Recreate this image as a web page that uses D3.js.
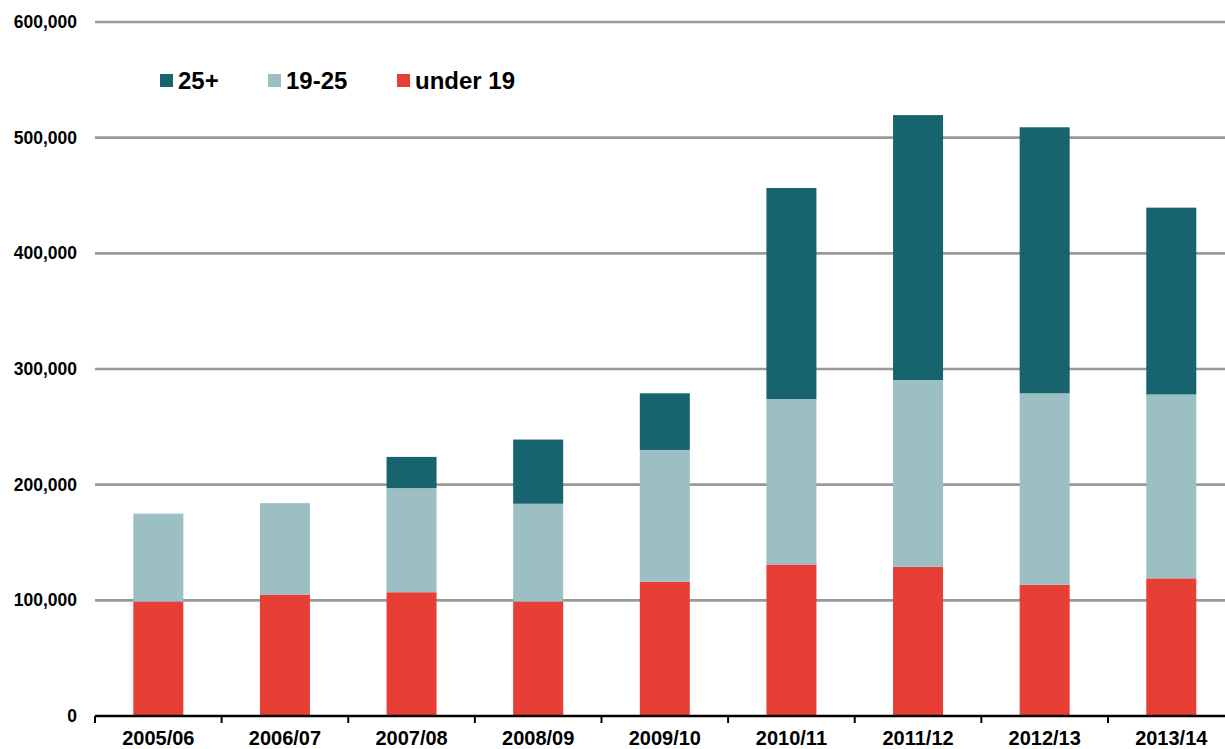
<!DOCTYPE html>
<html>
<head>
<meta charset="utf-8">
<script src="https://cdn.jsdelivr.net/npm/d3@7"></script>
<style>
  html, body { margin: 0; padding: 0; background: #fff; }
  svg { display: block; font-family: "Liberation Sans", Arial, sans-serif; font-weight: bold; }
</style>
</head>
<body>
<svg id="chart" width="1225" height="749"></svg>
<script>
// Academic years on the x axis
const years = ["2005/06", "2006/07", "2007/08", "2008/09", "2009/10", "2010/11", "2011/12", "2012/13", "2013/14"];

// Learners by age group
const under19 = [99000, 105000, 107000, 99000, 116000, 131000, 129000, 113500, 119000];
const age19to25 = [76000, 79000, 90000, 84500, 114000, 143000, 161500, 165500, 159000];
const age25plus = [0, 0, 27000, 55500, 49000, 182500, 229000, 230000, 161500];

const seriesKeys = ["under 19", "19-25", "25+"];
const legendOrder = ["25+", "19-25", "under 19"];
const yTicks = [0, 100000, 200000, 300000, 400000, 500000, 600000];

const colors = { "25+": "#17646e", "19-25": "#9bbfc3", "under 19": "#e73f35" };

const rows = years.map((y, i) => ({
  year: y,
  "under 19": under19[i],
  "19-25": age19to25[i],
  "25+": age25plus[i]
}));

const svg = d3.select("#chart");

const x = d3.scaleBand().domain(years).range([95, 1234.6]).padding(0);
const y = d3.scaleLinear().domain([0, 600000]).range([716, 22]);
const barW = x.bandwidth() * 0.395;

// Horizontal gridlines
svg.append("g")
  .selectAll("line")
  .data(yTicks.filter(d => d > 0))
  .join("line")
  .attr("x1", 95).attr("x2", 1225)
  .attr("y1", d => y(d)).attr("y2", d => y(d))
  .attr("stroke", "#999999")
  .attr("stroke-width", 2.6);

// Y tick labels
svg.append("g")
  .selectAll("text")
  .data(yTicks)
  .join("text")
  .attr("x", 77)
  .attr("y", d => y(d))
  .attr("dy", "0.35em")
  .attr("text-anchor", "end")
  .attr("font-size", 17.5)
  .attr("fill", "#000")
  .text(d => d3.format(",")(d));

// Stacked bars
const stacked = d3.stack().keys(seriesKeys)(rows);
svg.append("g")
  .selectAll("g")
  .data(stacked)
  .join("g")
  .attr("fill", d => colors[d.key])
  .selectAll("rect")
  .data(d => d.filter(s => s[1] - s[0] > 0))
  .join("rect")
  .attr("x", d => x(d.data.year) + (x.bandwidth() - barW) / 2)
  .attr("width", barW)
  .attr("y", d => y(d[1]))
  .attr("height", d => y(d[0]) - y(d[1]));

// X axis with ticks at category boundaries
const xAxis = svg.append("g").attr("transform", "translate(0,716)");
xAxis.append("line")
  .attr("x1", 95).attr("x2", 1225)
  .attr("stroke", "#000").attr("stroke-width", 2.6);
xAxis.selectAll("line.tick")
  .data(years)
  .join("line")
  .attr("class", "tick")
  .attr("x1", d => x(d)).attr("x2", d => x(d))
  .attr("y1", 0).attr("y2", 7)
  .attr("stroke", "#000").attr("stroke-width", 2);
xAxis.selectAll("text")
  .data(years)
  .join("text")
  .attr("x", d => x(d) + x.bandwidth() / 2)
  .attr("y", 28.5)
  .attr("text-anchor", "middle")
  .attr("font-size", 20)
  .attr("fill", "#000")
  .text(d => d);

// Legend
const legendX = [160, 268, 397];
const legend = svg.append("g")
  .selectAll("g")
  .data(legendOrder)
  .join("g")
  .attr("transform", (d, i) => `translate(${legendX[i]},74)`);
legend.append("rect")
  .attr("width", 13).attr("height", 13)
  .attr("fill", d => colors[d]);
legend.append("text")
  .attr("x", 18)
  .attr("y", 14.5)
  .attr("font-size", 24)
  .attr("fill", "#000")
  .text(d => d);
</script>
</body>
</html>
